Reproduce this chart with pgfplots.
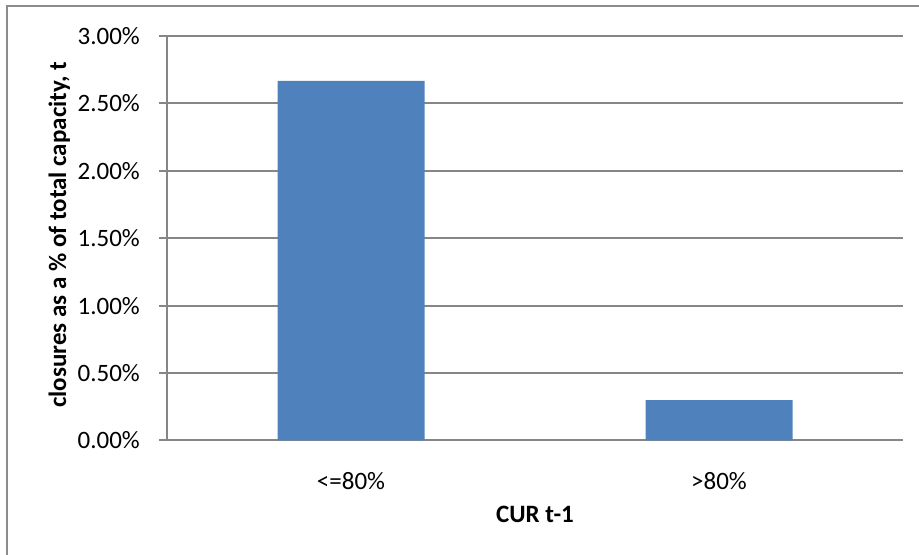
\documentclass[border=0pt]{standalone}
\usepackage{pgfplots}
\pgfplotsset{compat=1.18}
\usepackage{fontspec}
\setmainfont{Carlito}
\definecolor{barblue}{HTML}{4F81BD}
\definecolor{gridgray}{HTML}{868686}
\definecolor{framegray}{HTML}{8C8C8C}
\begin{document}
\begin{tikzpicture}[x=1bp,y=1bp]
\useasboundingbox (0,0) rectangle (919,555);
% chart area frame
\draw[framegray, line width=2bp] (7,-5) -- (7,549) -- (925,549);
\begin{axis}[
  at={(167bp,114.5bp)}, anchor=south west,
  scale only axis, width=736bp, height=404.5bp,
  ybar, bar width=147bp,
  xmin=-0.5, xmax=1.5, ymin=0, ymax=3,
  xtick={0,1}, xticklabels={{<=80\%},{>80\%}},
  ytick={0,0.5,1,1.5,2,2.5,3},
  yticklabel={\pgfmathprintnumber[fixed,fixed zerofill,precision=2]{\tick}\%},
  /pgf/number format/assume math mode=true,
  axis x line*=bottom, axis y line*=left,
  axis line style={gridgray, line width=2bp, -},
  ymajorgrids, grid style={gridgray, line width=2bp},
  major x tick style={draw=none},
  major y tick style={gridgray, line width=2bp},
  ytick align=outside, major tick length=8bp,
  tick label style={font=\fontsize{25bp}{30bp}\selectfont, text=black},
  yticklabel style={anchor=east, inner sep=0pt, xshift=-19bp},
  xticklabel style={anchor=base, inner sep=0pt, yshift=-41.5bp},
  ylabel={closures as a \% of total capacity, t},
  xlabel={CUR t-1},
  label style={font=\bfseries\fontsize{25bp}{30bp}\selectfont, text=black, inner sep=0pt},
  ylabel style={at={(axis description cs:-0.1371,0.5085)}, anchor=base, rotate=0},
  xlabel style={at={(axis description cs:0.5,-0.2020)}, anchor=base},
  clip=false,
]
\addplot[fill=barblue, draw=none] coordinates {(0,2.667) (1,0.300)};
\end{axis}
\end{tikzpicture}
\end{document}
